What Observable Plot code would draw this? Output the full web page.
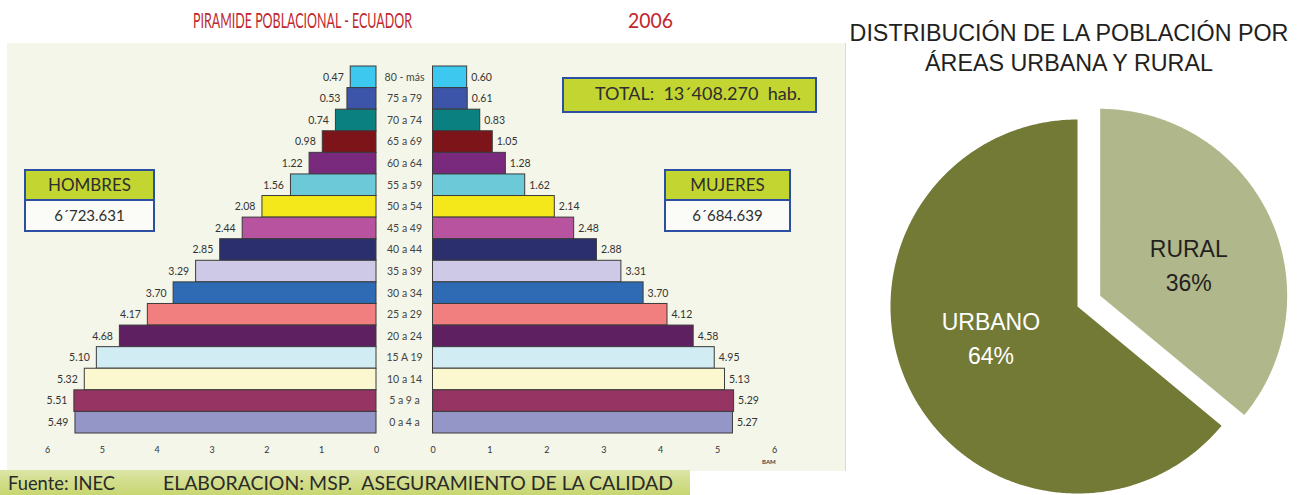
<!DOCTYPE html>
<html><head><meta charset="utf-8">
<script src="https://cdn.jsdelivr.net/npm/d3@7"></script>
<script src="https://cdn.jsdelivr.net/npm/@observablehq/plot@0.6"></script>
<style>
body{margin:0;background:#fff;}
#root{position:relative;width:1300px;height:495px;overflow:hidden;background:#fff;font-family:Lato,"Open Sans",sans-serif;color:#2e2e2e;}
.abs{position:absolute;white-space:pre;}
.fit{display:inline-block;transform-origin:0 50%;}
.panel{position:absolute;left:7px;top:43px;width:838px;height:428px;background:#f3f6e8;border-right:1px solid #d9dccf;}
.footer{position:absolute;left:0;top:470px;width:690px;height:25px;background:linear-gradient(#dce5a6,#c8d670);}
.box{position:absolute;border:2.5px solid #2b4fa3;box-sizing:border-box;background:#fbfcf8;text-align:center;}
.box .hd{background:#c3d531;border-bottom:2.5px solid #2b4fa3;height:28px;line-height:28px;font-size:17px;}
.box .bd{height:28px;line-height:29px;font-size:15px;}
.plot{position:absolute;left:0;top:0;}
</style></head>
<body><div id="root"></div>
<script>
// ---------- data ----------
const ages = ["80 - más","75 a 79","70 a 74","65 a 69","60 a 64","55 a 59","50 a 54","45 a 49","40 a 44","35 a 39","30 a 34","25 a 29","20 a 24","15 A 19","10 a 14","5 a 9 a","0 a 4 a"];
const hombres = [0.47,0.53,0.74,0.98,1.22,1.56,2.08,2.44,2.85,3.29,3.70,4.17,4.68,5.10,5.32,5.51,5.49];
const mujeres = [0.60,0.61,0.83,1.05,1.28,1.62,2.14,2.48,2.88,3.31,3.70,4.12,4.58,4.95,5.13,5.29,5.27];
const ageColors = ["#3cc8ef","#3d55a8","#0b8080","#7d1419","#7a2a7d","#6ccad8","#f4e81a","#b853a0","#2c2f6e","#cdc9e6","#2e6bb4","#f27f7f","#5e2060","#d2ecf3","#fbf8d0","#963463","#9596c8"];
const xTicks = [0,1,2,3,4,5,6];
const totalHombres = "6´723.631";
const totalMujeres = "6´684.639";
const totalPoblacion = "13´408.270";
const areas = ["RURAL","URBANO"];
const areaPct = [36,64];
const areaColors = ["#b0b78a","#737a36"];

// ---------- layout ----------
const root = document.getElementById("root");
root.insertAdjacentHTML("beforeend", `
<div class="panel"></div>
<div class="footer"></div>
<div class="abs" style="left:193px;top:6px;font-size:21.5px;line-height:28px;color:#c1272d"><span class="fit" data-w="219">PIRAMIDE POBLACIONAL - ECUADOR</span></div>
<div class="abs" style="left:628px;top:6px;font-size:21.5px;line-height:28px;color:#c1272d"><span class="fit" data-w="45">2006</span></div>
<div class="abs" style="left:8px;top:471px;font-size:19px;line-height:24px;color:#2a2a2a"><span class="fit" data-w="107">Fuente: INEC</span></div>
<div class="abs" style="left:163px;top:471px;font-size:19px;line-height:24px;color:#2a2a2a"><span class="fit" data-w="510">ELABORACION: MSP.  ASEGURAMIENTO DE LA CALIDAD</span></div>
<div class="box" style="left:24px;top:169px;width:131px;height:63px"><div class="hd">HOMBRES</div><div class="bd">${totalHombres}</div></div>
<div class="box" style="left:664px;top:169px;width:127px;height:63px"><div class="hd">MUJERES</div><div class="bd">${totalMujeres}</div></div>
<div class="box" style="left:562px;top:77px;width:255px;height:36px;background:#c3d531;line-height:31px;font-size:16.5px"><span class="fit" data-w="206" style="white-space:pre">TOTAL:  ${totalPoblacion}  hab.</span></div>
<div class="abs" style="left:762px;top:458px;font-size:6px;font-weight:bold;color:#444">BAM</div>
<div class="abs" style="left:839px;top:18px;width:460px;text-align:center;font-family:'Liberation Sans',Arial,sans-serif;font-size:23.3px;line-height:30px;color:#231f20;white-space:normal">DISTRIBUCIÓN DE LA POBLACIÓN POR<br>ÁREAS URBANA Y RURAL</div>
`);

// ---------- pyramid ----------
const rows = ages.map((a, i) => ({age: a, h: hombres[i], m: mujeres[i]}));
const yOpt = {domain: ages, range: [66, 433], padding: 0, round: false, axis: null};
const colorOpt = {domain: ages, range: ageColors};
const baseStyle = {background: "transparent", fontFamily: "Lato, sans-serif", fontSize: "9px", color: "#333", overflow: "visible"};

const male = Plot.plot({
  width: 850, height: 470, marginTop: 0, marginLeft: 0, marginRight: 474, marginBottom: 32,
  style: baseStyle,
  x: {domain: [0, 6], range: [376, 47]},
  y: yOpt, color: colorOpt,
  marks: [
    Plot.barX(rows, {x: "h", y: "age", fill: "age", stroke: "#3b3b3b", strokeWidth: 1}),
    Plot.text(rows, {x: "h", y: "age", text: d => d.h.toFixed(2), textAnchor: "end", dx: -7, fill: "#333", fontSize: 10.5}),
    Plot.text(rows, {y: "age", text: "age", frameAnchor: "right", dx: 28, textAnchor: "middle", fill: "#444", fontSize: 10.5}),
    Plot.axisX({ticks: xTicks, tickSize: 0, tickPadding: 8, tickFormat: d => String(d), label: null})
  ]
});
const female = Plot.plot({
  width: 850, height: 470, marginTop: 0, marginLeft: 432, marginRight: 75, marginBottom: 32,
  style: baseStyle,
  x: {domain: [0, 6], range: [432.5, 774]},
  y: yOpt, color: colorOpt,
  marks: [
    Plot.barX(rows, {x: "m", y: "age", fill: "age", stroke: "#3b3b3b", strokeWidth: 1}),
    Plot.text(rows, {x: "m", y: "age", text: d => d.m.toFixed(2), textAnchor: "start", dx: 4, fill: "#333", fontSize: 10.5}),
    Plot.axisX({ticks: xTicks, tickSize: 0, tickPadding: 8, tickFormat: d => String(d), label: null})
  ]
});
male.classList.add("plot"); female.classList.add("plot");
root.appendChild(male); root.appendChild(female);

// ---------- pie ----------
const areaRows = areas.map((a, i) => ({area: a, pct: areaPct[i]}));
const slices = d3.pie().sort(null).value(d => d.pct)(areaRows);
const explode = {RURAL: 0.134, URBANO: 0};
const piePts = [], pieLabels = [];
for (const s of slices) {
  const area = s.data.area, mid = (s.startAngle + s.endAngle) / 2, e = explode[area];
  const ox = e * Math.sin(mid), oy = e * Math.cos(mid);
  piePts.push({area, x: ox, y: oy});
  const n = Math.ceil((s.endAngle - s.startAngle) / 0.01);
  for (let k = 0; k <= n; k++) {
    const a = s.startAngle + (s.endAngle - s.startAngle) * k / n;
    piePts.push({area, x: ox + Math.sin(a), y: oy + Math.cos(a)});
  }
  pieLabels.push({area, pct: s.data.pct, x: ox + 0.5 * Math.sin(mid), y: oy + 0.5 * Math.cos(mid)});
}
const pie = Plot.plot({
  width: 460, height: 495, margin: 0,
  style: {background: "transparent", fontFamily: "'Liberation Sans', Arial, sans-serif", overflow: "visible"},
  x: {domain: [-1, 1], range: [50, 424], axis: null},
  y: {domain: [-1, 1], range: [493, 119], axis: null},
  color: {domain: areas, range: areaColors},
  marks: [
    Plot.line(piePts, {x: "x", y: "y", z: "area", fill: "area", stroke: "none", curve: "linear-closed"}),
    Plot.text(pieLabels, {filter: d => d.area === "URBANO", x: "x", y: "y", text: d => `${d.area}\n${d.pct}%`, fill: "white", fontSize: 23, lineHeight: 1.48, dx: -2, dy: -10}),
    Plot.text(pieLabels, {filter: d => d.area === "RURAL", x: "x", y: "y", text: d => `${d.area}\n${d.pct}%`, fill: "#231f20", fontSize: 23, lineHeight: 1.48, dx: 4, dy: 7})
  ]
});
pie.style.position = "absolute"; pie.style.left = "840px"; pie.style.top = "0px";
root.appendChild(pie);

// ---------- condense text to reference widths ----------
function fit() {
  document.querySelectorAll("[data-w]").forEach(el => {
    el.style.transform = "none";
    const w = el.getBoundingClientRect().width;
    if (w > 0) el.style.transform = `scaleX(${+el.dataset.w / w})`;
  });
}
fit();
if (document.fonts && document.fonts.ready) document.fonts.ready.then(fit);
</script>
</body></html>
